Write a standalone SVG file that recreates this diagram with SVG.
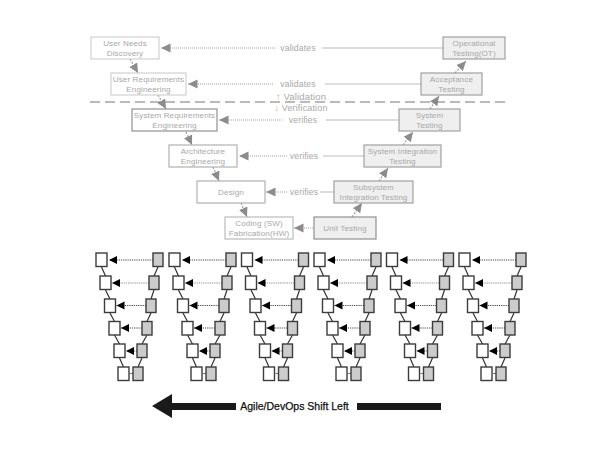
<svg xmlns="http://www.w3.org/2000/svg" xmlns:xlink="http://www.w3.org/1999/xlink" width="615" height="475" viewBox="0 0 615 475">
<style>
text{font-family:"Liberation Sans",Arial,sans-serif;font-size:8.1px;fill:#a8a8a8;text-anchor:middle;letter-spacing:.1px}
.lab{font-size:8.6px;letter-spacing:.15px}
.box{fill:#fff;stroke:#aaa;stroke-width:1.1}
.test{fill:#efefef;stroke:#999;stroke-width:1.1}
.pale{stroke:#ccc}
.hl{stroke:#a0a0a0;stroke-width:1;fill:none;stroke-dasharray:1 1}
.hs{stroke:#bbb;stroke-width:1;fill:none}
.d{stroke:#999;stroke-width:1.2;fill:none;stroke-dasharray:2 1.5}
.l{fill:#fff;stroke:#3c3c3c;stroke-width:1.4}
.r{fill:#ccc;stroke:#3c3c3c;stroke-width:1.4}
.v{stroke:#333;stroke-width:1.2;fill:none}
.h{stroke:#444;stroke-width:1;fill:none;stroke-dasharray:1.2 1}
.big{font-size:10.5px;fill:#111;stroke:#111;stroke-width:.25;letter-spacing:0}
</style>
<defs>
<marker id="ga" markerUnits="userSpaceOnUse" markerWidth="11" markerHeight="10" refX="9.500" refY="4.500" orient="auto"><path d="M0 0L9.500 4.500L0 9z" fill="#8c8c8c"/></marker>
<marker id="ka" markerUnits="userSpaceOnUse" markerWidth="10" markerHeight="10" refX="8" refY="4" orient="auto"><path d="M0 0L8 4L0 8z" fill="#000"/></marker>
<g id="mini">
<path class="v" d="M101.5 267L105.5 276M105.5 290L110 299M110 313L114.5 321.500M114.500 335L119.500 344M119.500 358L123.500 367"/>
<path class="v" d="M158 267L154 276M154 290L151 299M151 313L147 321.500M147 335L142 344M142 358L138 367"/>
<path class="h" d="M153 260H109" marker-end="url(#ka)"/>
<path class="h" d="M149 283H112" marker-end="url(#ka)" style="stroke:#888"/>
<path class="h" d="M146 305.500H116.500" marker-end="url(#ka)"/>
<path class="h" d="M142 328H121" marker-end="url(#ka)"/>
<path class="h" d="M137 351H126" marker-end="url(#ka)"/>
<path d="M133 373.500H130" stroke="#777" stroke-width="1" fill="none"/>
</g>
</defs>
<g id="connectors">
<path class="hl" d="M275 48H161" marker-end="url(#ga)"/><path class="hs" d="M322 48H443"/>
<path class="hl" d="M273 84H188" marker-end="url(#ga)"/><path class="hs" d="M325 84H421"/>
<path class="hl" d="M282 120H219" marker-end="url(#ga)"/><path class="hs" d="M326 120H399"/>
<path class="hl" d="M287 156H239" marker-end="url(#ga)"/><path class="hs" d="M323 156H365"/>
<path class="hl" d="M287 192H266" marker-end="url(#ga)"/><path class="hs" d="M320 192H334"/>
<path class="hl" d="M313 228H294" marker-end="url(#ga)"/>
<path class="d" d="M130 59L138 73" marker-end="url(#ga)"/>
<path class="d" d="M158 95L166 109" marker-end="url(#ga)"/>
<path class="d" d="M186 132L192 145" marker-end="url(#ga)"/>
<path class="d" d="M213 167L219 181" marker-end="url(#ga)"/>
<path class="d" d="M241 203L247 217" marker-end="url(#ga)"/>
<path class="d" d="M352 217L362 203" marker-end="url(#ga)"/>
<path class="d" d="M379 181L388 168" marker-end="url(#ga)"/>
<path class="d" d="M403 145L413 132" marker-end="url(#ga)"/>
<path class="d" d="M430 109L439 96" marker-end="url(#ga)"/>
<path class="d" d="M455 73L466 61" marker-end="url(#ga)"/>
<path d="M90 102H505" stroke="#777" stroke-width="1.2" stroke-dasharray="10 5" fill="none"/>
<use href="#mini"/>
<use href="#mini" transform="translate(73 0)"/>
<use href="#mini" transform="translate(145.500 0)"/>
<use href="#mini" transform="translate(218 0)"/>
<use href="#mini" transform="translate(290.500 0)"/>
<use href="#mini" transform="translate(363 0)"/>
</g>
<g id="labels">
<text class="lab" x="298" y="51">validates</text>
<text class="lab" x="298" y="87">validates</text>
<text class="lab" x="303" y="123">verifies</text>
<text class="lab" x="304" y="159">verifies</text>
<text class="lab" x="304" y="195">verifies</text>
<text x="301" y="100" style="font-size:9.500px;letter-spacing:.15px">↑ Validation</text>
<text x="301" y="110.500" style="font-size:9px;letter-spacing:.15px">↓ Verification</text>
</g>
<g id="n-user-needs"><rect class="box pale" x="91" y="37" width="68" height="22"/><text x="125" y="46">User Needs</text><text x="125" y="56">Discovery</text></g>
<g id="n-user-req"><rect class="box pale" x="111" y="73" width="75" height="22"/><text x="148.500" y="82">User Requirements</text><text x="148.500" y="92">Engineering</text></g>
<g id="n-sys-req"><rect class="box" style="stroke:#888" x="132" y="109" width="85" height="22"/><text x="174.500" y="118">System Requirements</text><text x="174.500" y="128">Engineering</text></g>
<g id="n-arch"><rect class="box" x="169" y="145" width="68" height="22"/><text x="203" y="154">Architecture</text><text x="203" y="164">Engineering</text></g>
<g id="n-design"><rect class="box" x="197" y="181" width="68" height="22"/><text x="231" y="195">Design</text></g>
<g id="n-coding"><rect class="box" style="stroke:#b5b5b5" x="225" y="217" width="68" height="22"/><text x="259" y="226">Coding (SW)</text><text x="259" y="236">Fabrication(HW)</text></g>
<g id="n-unit"><rect class="test" style="stroke:#888" x="314" y="217" width="62" height="22"/><text x="345" y="231">Unit Testing</text></g>
<g id="n-subsystem"><rect class="test" x="334" y="181" width="79" height="22"/><text x="373.500" y="190">Subsystem</text><text x="373.500" y="200">Integration Testing</text></g>
<g id="n-sys-int"><rect class="test" x="364" y="145" width="77" height="22"/><text x="402.500" y="154">System Integration</text><text x="402.500" y="164">Testing</text></g>
<g id="n-system"><rect class="test" x="399" y="109" width="61" height="22"/><text x="429.500" y="118">System</text><text x="429.500" y="128">Testing</text></g>
<g id="n-acceptance"><rect class="test" x="421" y="73" width="61" height="22"/><text x="451.500" y="82">Acceptance</text><text x="451.500" y="92">Testing</text></g>
<g id="n-operational"><rect class="test" x="443" y="37" width="62" height="22"/><text x="474" y="46">Operational</text><text x="474" y="56">Testing(OT)</text></g>
<g id="v1">
<g id="v1-l1"><rect class="l" x="96" y="253" width="11" height="13.500"/></g><g id="v1-l2"><rect class="l" x="100" y="276" width="11" height="13.500"/></g><g id="v1-l3"><rect class="l" x="104.500" y="299" width="11" height="13.500"/></g><g id="v1-l4"><rect class="l" x="109" y="321.500" width="11" height="13.500"/></g><g id="v1-l5"><rect class="l" x="114" y="344" width="11" height="13.500"/></g><g id="v1-l6"><rect class="l" x="118" y="367" width="11" height="13.500"/></g>
<g id="v1-r1"><rect class="r" x="153" y="253" width="10" height="13.500"/></g><g id="v1-r2"><rect class="r" x="149" y="276" width="10" height="13.500"/></g><g id="v1-r3"><rect class="r" x="146" y="299" width="10" height="13.500"/></g><g id="v1-r4"><rect class="r" x="142" y="321.500" width="10" height="13.500"/></g><g id="v1-r5"><rect class="r" x="137" y="344" width="10" height="13.500"/></g><g id="v1-r6"><rect class="r" x="133" y="367" width="10" height="13.500"/></g>
</g>
<g id="v2" transform="translate(73 0)">
<g id="v2-l1"><rect class="l" x="96" y="253" width="11" height="13.500"/></g><g id="v2-l2"><rect class="l" x="100" y="276" width="11" height="13.500"/></g><g id="v2-l3"><rect class="l" x="104.500" y="299" width="11" height="13.500"/></g><g id="v2-l4"><rect class="l" x="109" y="321.500" width="11" height="13.500"/></g><g id="v2-l5"><rect class="l" x="114" y="344" width="11" height="13.500"/></g><g id="v2-l6"><rect class="l" x="118" y="367" width="11" height="13.500"/></g>
<g id="v2-r1"><rect class="r" x="153" y="253" width="10" height="13.500"/></g><g id="v2-r2"><rect class="r" x="149" y="276" width="10" height="13.500"/></g><g id="v2-r3"><rect class="r" x="146" y="299" width="10" height="13.500"/></g><g id="v2-r4"><rect class="r" x="142" y="321.500" width="10" height="13.500"/></g><g id="v2-r5"><rect class="r" x="137" y="344" width="10" height="13.500"/></g><g id="v2-r6"><rect class="r" x="133" y="367" width="10" height="13.500"/></g>
</g>
<g id="v3" transform="translate(145.500 0)">
<g id="v3-l1"><rect class="l" x="96" y="253" width="11" height="13.500"/></g><g id="v3-l2"><rect class="l" x="100" y="276" width="11" height="13.500"/></g><g id="v3-l3"><rect class="l" x="104.500" y="299" width="11" height="13.500"/></g><g id="v3-l4"><rect class="l" x="109" y="321.500" width="11" height="13.500"/></g><g id="v3-l5"><rect class="l" x="114" y="344" width="11" height="13.500"/></g><g id="v3-l6"><rect class="l" x="118" y="367" width="11" height="13.500"/></g>
<g id="v3-r1"><rect class="r" x="153" y="253" width="10" height="13.500"/></g><g id="v3-r2"><rect class="r" x="149" y="276" width="10" height="13.500"/></g><g id="v3-r3"><rect class="r" x="146" y="299" width="10" height="13.500"/></g><g id="v3-r4"><rect class="r" x="142" y="321.500" width="10" height="13.500"/></g><g id="v3-r5"><rect class="r" x="137" y="344" width="10" height="13.500"/></g><g id="v3-r6"><rect class="r" x="133" y="367" width="10" height="13.500"/></g>
</g>
<g id="v4" transform="translate(218 0)">
<g id="v4-l1"><rect class="l" x="96" y="253" width="11" height="13.500"/></g><g id="v4-l2"><rect class="l" x="100" y="276" width="11" height="13.500"/></g><g id="v4-l3"><rect class="l" x="104.500" y="299" width="11" height="13.500"/></g><g id="v4-l4"><rect class="l" x="109" y="321.500" width="11" height="13.500"/></g><g id="v4-l5"><rect class="l" x="114" y="344" width="11" height="13.500"/></g><g id="v4-l6"><rect class="l" x="118" y="367" width="11" height="13.500"/></g>
<g id="v4-r1"><rect class="r" x="153" y="253" width="10" height="13.500"/></g><g id="v4-r2"><rect class="r" x="149" y="276" width="10" height="13.500"/></g><g id="v4-r3"><rect class="r" x="146" y="299" width="10" height="13.500"/></g><g id="v4-r4"><rect class="r" x="142" y="321.500" width="10" height="13.500"/></g><g id="v4-r5"><rect class="r" x="137" y="344" width="10" height="13.500"/></g><g id="v4-r6"><rect class="r" x="133" y="367" width="10" height="13.500"/></g>
</g>
<g id="v5" transform="translate(290.500 0)">
<g id="v5-l1"><rect class="l" x="96" y="253" width="11" height="13.500"/></g><g id="v5-l2"><rect class="l" x="100" y="276" width="11" height="13.500"/></g><g id="v5-l3"><rect class="l" x="104.500" y="299" width="11" height="13.500"/></g><g id="v5-l4"><rect class="l" x="109" y="321.500" width="11" height="13.500"/></g><g id="v5-l5"><rect class="l" x="114" y="344" width="11" height="13.500"/></g><g id="v5-l6"><rect class="l" x="118" y="367" width="11" height="13.500"/></g>
<g id="v5-r1"><rect class="r" x="153" y="253" width="10" height="13.500"/></g><g id="v5-r2"><rect class="r" x="149" y="276" width="10" height="13.500"/></g><g id="v5-r3"><rect class="r" x="146" y="299" width="10" height="13.500"/></g><g id="v5-r4"><rect class="r" x="142" y="321.500" width="10" height="13.500"/></g><g id="v5-r5"><rect class="r" x="137" y="344" width="10" height="13.500"/></g><g id="v5-r6"><rect class="r" x="133" y="367" width="10" height="13.500"/></g>
</g>
<g id="v6" transform="translate(363 0)">
<g id="v6-l1"><rect class="l" x="96" y="253" width="11" height="13.500"/></g><g id="v6-l2"><rect class="l" x="100" y="276" width="11" height="13.500"/></g><g id="v6-l3"><rect class="l" x="104.500" y="299" width="11" height="13.500"/></g><g id="v6-l4"><rect class="l" x="109" y="321.500" width="11" height="13.500"/></g><g id="v6-l5"><rect class="l" x="114" y="344" width="11" height="13.500"/></g><g id="v6-l6"><rect class="l" x="118" y="367" width="11" height="13.500"/></g>
<g id="v6-r1"><rect class="r" x="153" y="253" width="10" height="13.500"/></g><g id="v6-r2"><rect class="r" x="149" y="276" width="10" height="13.500"/></g><g id="v6-r3"><rect class="r" x="146" y="299" width="10" height="13.500"/></g><g id="v6-r4"><rect class="r" x="142" y="321.500" width="10" height="13.500"/></g><g id="v6-r5"><rect class="r" x="137" y="344" width="10" height="13.500"/></g><g id="v6-r6"><rect class="r" x="133" y="367" width="10" height="13.500"/></g>
</g>
<g id="shift-left">
<path d="M152 406L172 394V403H236V410H172V418z" fill="#1a1a1a"/>
<rect x="357" y="403" width="84" height="7" fill="#1a1a1a"/>
<text class="big" x="294.500" y="410">Agile/DevOps Shift Left</text>
</g>
</svg>
